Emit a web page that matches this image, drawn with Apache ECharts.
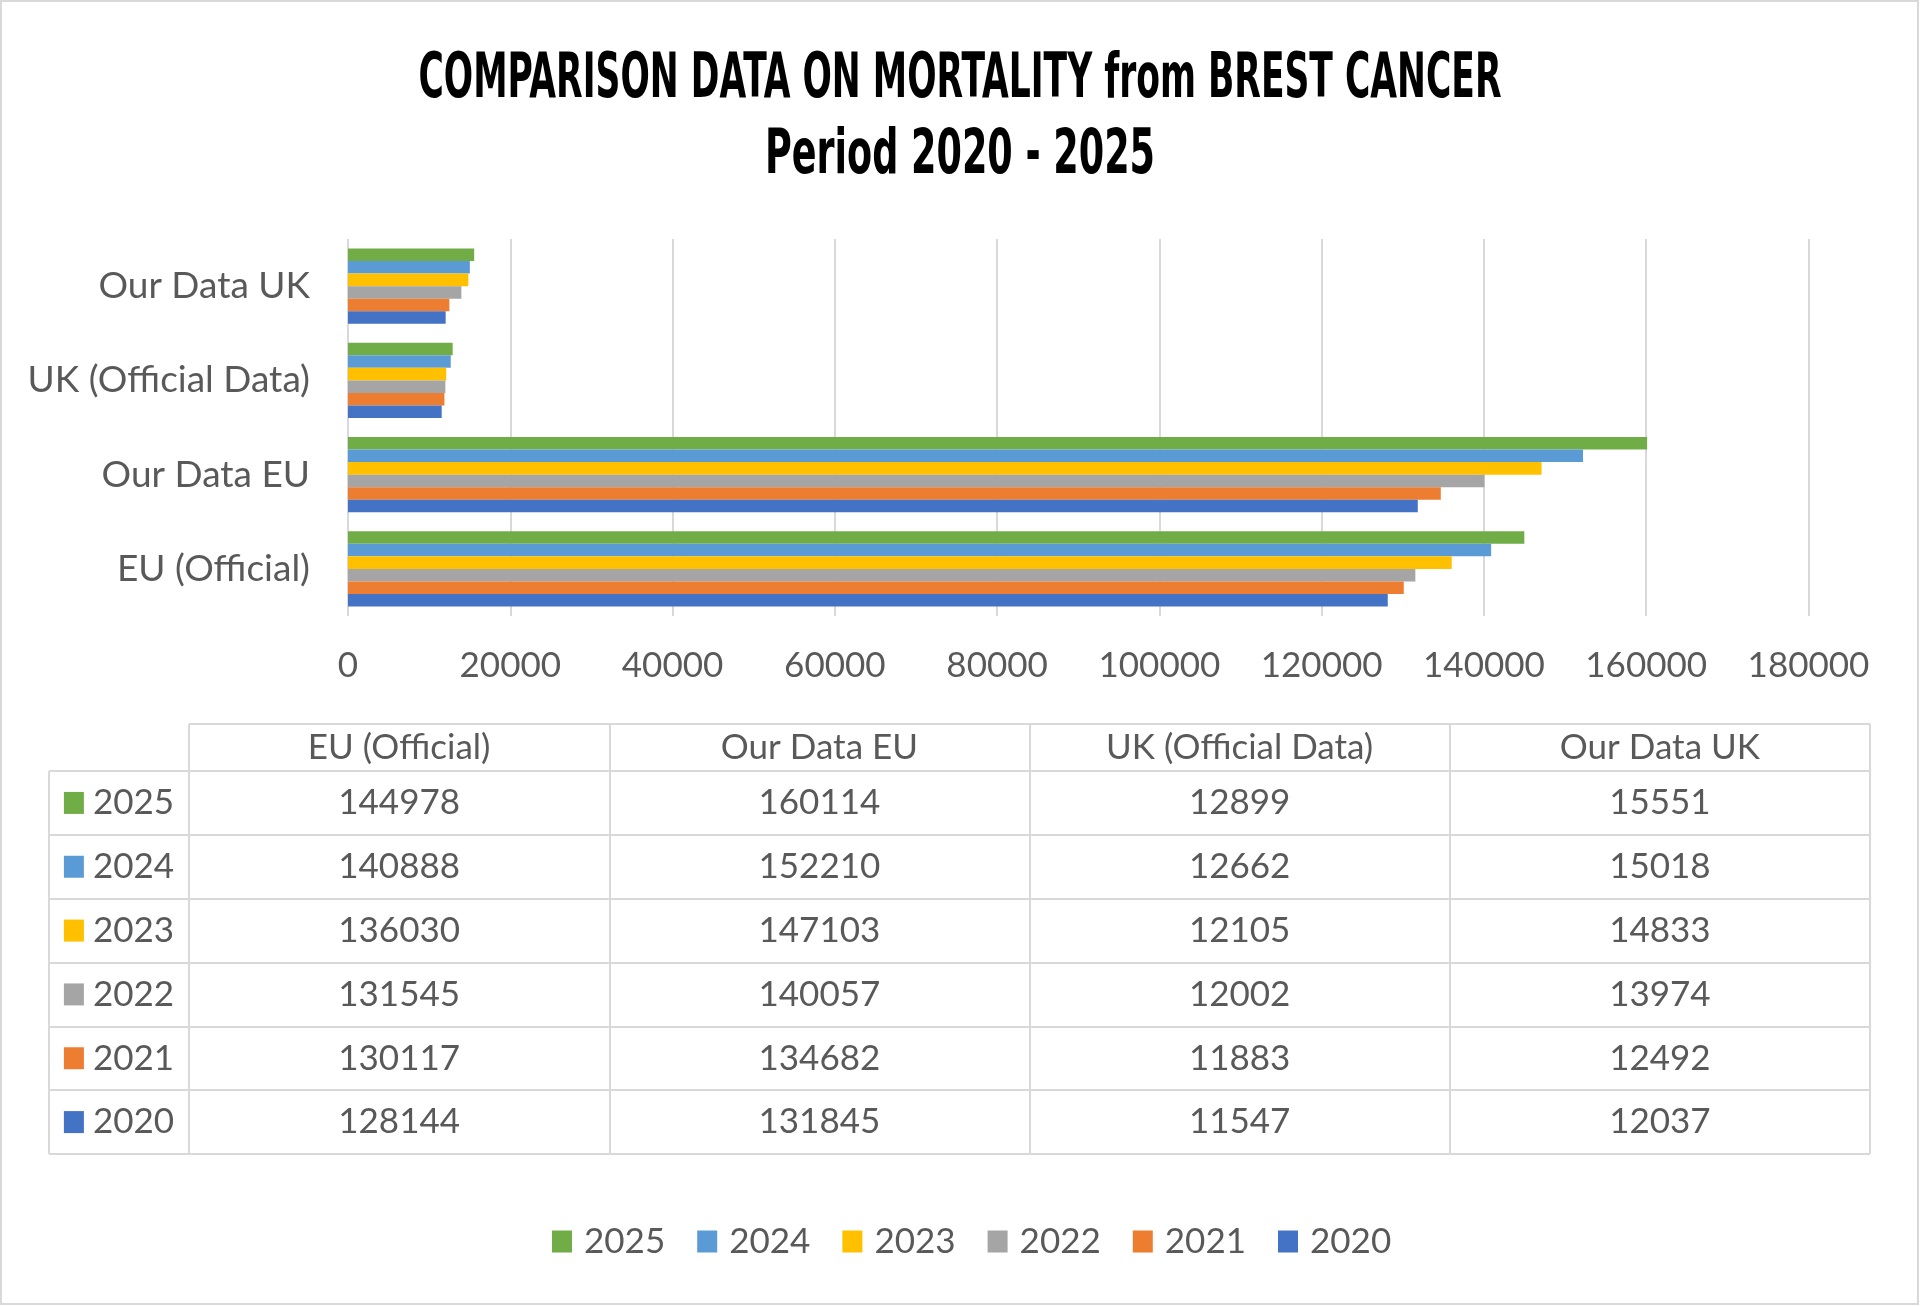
<!DOCTYPE html>
<html>
<head>
<meta charset="utf-8">
<script src="https://cdn.jsdelivr.net/npm/echarts@6/dist/echarts.min.js"></script>
<style>
  html, body { margin: 0; padding: 0; background: #fff; }
  #chart { width: 1920px; height: 1306px; }
</style>
</head>
<body>
<div id="chart"></div>
<script>
// categories bottom -> top on the bar axis, also table column order
const categories = ['EU (Official)', 'Our Data EU', 'UK (Official Data)', 'Our Data UK'];
const years = ['2020', '2021', '2022', '2023', '2024', '2025'];
const yearColors = ['#4472C4', '#ED7D31', '#A5A5A5', '#FFC000', '#5B9BD5', '#70AD47'];

const v2020 = [128144, 131845, 11547, 12037];
const v2021 = [130117, 134682, 11883, 12492];
const v2022 = [131545, 140057, 12002, 13974];
const v2023 = [136030, 147103, 12105, 14833];
const v2024 = [140888, 152210, 12662, 15018];
const v2025 = [144978, 160114, 12899, 15551];
const yearValues = [v2020, v2021, v2022, v2023, v2024, v2025];

const xMin = 0, xMax = 180000, xStep = 20000;

const titleLine1 = 'COMPARISON DATA ON MORTALITY from BREST CANCER';
const titleLine2 = 'Period 2020 - 2025';

const chart = echarts.init(document.getElementById('chart'));

const txt = '#595959';
const font = 'Lato';
const fs = 35;
const lineCol = '#D9D9D9';

// condensed title: measure and squeeze to the reference width
const titleFont = 'bold 62px "DejaVu Sans Condensed", "DejaVu Sans"';
const ctx = document.createElement('canvas').getContext('2d');
ctx.font = titleFont;
const s1 = 1083 / ctx.measureText(titleLine1).width;
const s2 = 390 / ctx.measureText(titleLine2).width;

const yearsTopDown = years.slice().reverse();

// in a horizontal bar group the first series sits on top, so 2025 goes first
const barSeries = yearsTopDown.map(y => {
    const i = years.indexOf(y);
    return {
        name: y,
        type: 'bar',
        xAxisIndex: 0,
        yAxisIndex: 0,
        data: yearValues[i],
        itemStyle: { color: yearColors[i] },
        barGap: '0%',
        barCategoryGap: '20%',
        silent: true
    };
});

const headSeries = {
    type: 'scatter',
    xAxisIndex: 1,
    yAxisIndex: 1,
    symbolSize: 0,
    silent: true,
    itemStyle: { opacity: 1 },
    data: categories.map(c => [c, 'h']),
    label: {
        show: true, position: 'inside', color: txt, fontFamily: font, fontSize: fs,
        formatter: p => p.data[0]
    }
};

const bodyData = [];
years.forEach((y, i) => {
    categories.forEach((c, j) => bodyData.push([c, y, yearValues[i][j]]));
});
const bodySeries = {
    type: 'scatter',
    xAxisIndex: 2,
    yAxisIndex: 2,
    symbolSize: 0,
    silent: true,
    itemStyle: { opacity: 1 },
    data: bodyData,
    label: {
        show: true, position: 'inside', color: txt, fontFamily: font, fontSize: fs,
        formatter: p => String(p.data[2])
    }
};

const rich = { t: { color: txt, fontFamily: font, fontSize: fs, padding: [0, 0, 0, 9] } };
years.forEach((y, i) => { rich['s' + i] = { backgroundColor: yearColors[i], width: 20, height: 22 }; });
const rowSeries = {
    type: 'scatter',
    xAxisIndex: 3,
    yAxisIndex: 3,
    symbolSize: 0,
    silent: true,
    itemStyle: { opacity: 1 },
    data: years.map(y => ['r', y]),
    label: {
        show: true, position: 'inside', opacity: 1,
        formatter: p => '{s' + years.indexOf(p.data[1]) + '|}{t|' + p.data[1] + '}',
        rich: rich
    }
};

const tableSplit = { show: true, lineStyle: { color: lineCol, width: 2 } };
const hidden = { axisLine: { show: false }, axisTick: { show: false }, axisLabel: { show: false } };

option = {
    backgroundColor: '#fff',
    animation: false,
    graphic: [
        {
            type: 'rect', silent: true,
            shape: { x: 1, y: 1, width: 1917, height: 1303 },
            style: { fill: 'none', stroke: lineCol, lineWidth: 2 }
        },
        {
            type: 'text', x: 960, y: 81, scaleX: s1, silent: true,
            style: { text: titleLine1, font: titleFont, fill: '#000', align: 'center', verticalAlign: 'middle' }
        },
        {
            type: 'text', x: 960, y: 157, scaleX: s2, silent: true,
            style: { text: titleLine2, font: titleFont, fill: '#000', align: 'center', verticalAlign: 'middle' }
        }
    ],
    legend: {
        data: yearsTopDown,
        bottom: 42,
        left: 547,
        icon: 'rect',
        itemWidth: 20,
        itemHeight: 22,
        itemGap: 32,
        textStyle: { color: txt, fontFamily: font, fontSize: fs, padding: [0, 0, 0, 7] },
        selectedMode: false
    },
    grid: [
        { left: 348, right: 111.5, top: 239, height: 377 },
        { left: 189, right: 50, top: 724, height: 47 },
        { left: 189, right: 50, top: 771, height: 383 },
        { left: 49, width: 140, top: 771, height: 383 }
    ],
    xAxis: [
        {
            gridIndex: 0, type: 'value', min: xMin, max: xMax, interval: xStep,
            axisLine: { show: false }, axisTick: { show: false },
            axisLabel: { color: txt, fontFamily: font, fontSize: fs, margin: 32, formatter: v => String(v) },
            splitLine: { show: true, lineStyle: { color: lineCol, width: 2 } }
        },
        Object.assign({ gridIndex: 1, type: 'category', data: categories, splitLine: tableSplit }, hidden),
        Object.assign({ gridIndex: 2, type: 'category', data: categories, splitLine: tableSplit }, hidden),
        Object.assign({ gridIndex: 3, type: 'category', data: ['r'], splitLine: tableSplit }, hidden)
    ],
    yAxis: [
        {
            gridIndex: 0, type: 'category', data: categories,
            axisLine: { show: false }, axisTick: { show: false },
            axisLabel: { color: txt, fontFamily: font, fontSize: 37, margin: 38 }
        },
        Object.assign({ gridIndex: 1, type: 'category', data: ['h'], splitLine: tableSplit }, hidden),
        Object.assign({ gridIndex: 2, type: 'category', data: years, splitLine: tableSplit }, hidden),
        Object.assign({ gridIndex: 3, type: 'category', data: years, splitLine: tableSplit }, hidden)
    ],
    series: barSeries.concat([headSeries, bodySeries, rowSeries])
};

chart.setOption(option);

window.onresize = function () {
    chart.resize();
};
</script>
</body>
</html>
